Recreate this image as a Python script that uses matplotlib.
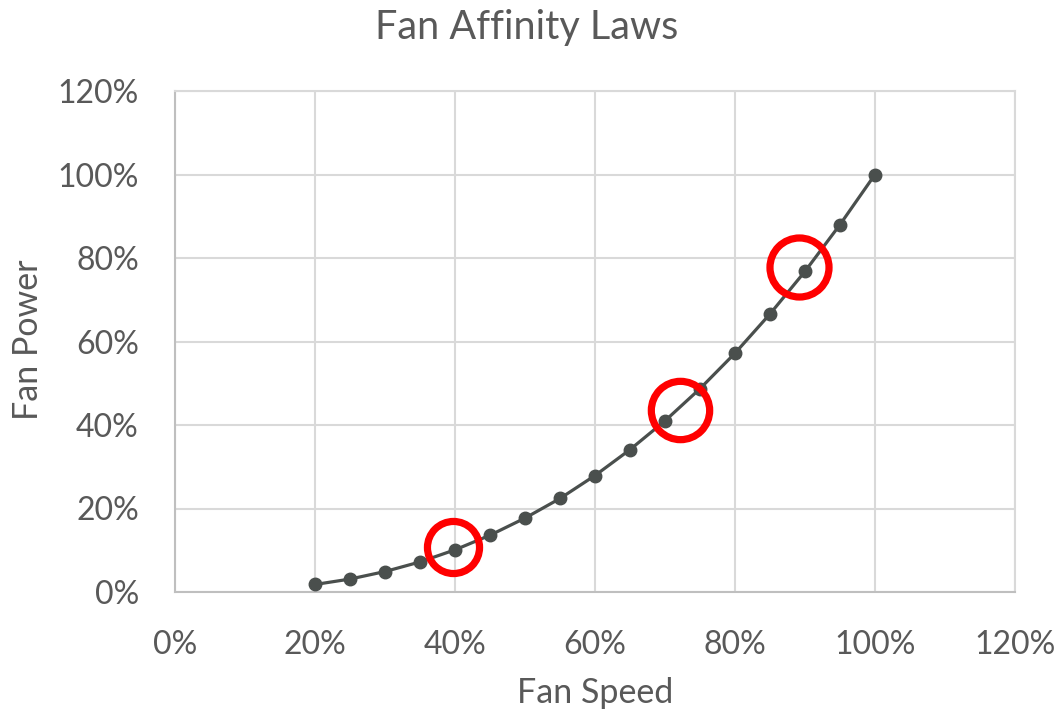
import matplotlib
matplotlib.use("Agg")
import matplotlib.pyplot as plt
from matplotlib.ticker import FixedLocator, FuncFormatter

# Fan speed (fraction of full speed) and resulting fan power (fraction of full power)
fan_speed = [0.20, 0.25, 0.30, 0.35, 0.40, 0.45, 0.50, 0.55, 0.60, 0.65,
             0.70, 0.75, 0.80, 0.85, 0.90, 0.95, 1.00]
fan_power = [0.018, 0.031, 0.049, 0.072, 0.101, 0.136, 0.177, 0.224, 0.279, 0.341,
             0.410, 0.487, 0.572, 0.666, 0.768, 0.880, 1.000]

# Highlight rings (speed, power, ring diameter in points)
ring_speed = [0.397, 0.721, 0.891]
ring_power = [0.108, 0.436, 0.778]
ring_size = [37.5, 42.0, 42.5]

ticks = [0.0, 0.2, 0.4, 0.6, 0.8, 1.0, 1.2]

text_color = "#595959"
grid_color = "#d9d9d9"
line_color = "#4a4f4d"
font = ["Lato", "DejaVu Sans"]

plt.rcParams["font.family"] = font

fig = plt.figure(figsize=(10.6, 7.14), dpi=100)
ax = fig.add_axes([175 / 1060, 1 - 592 / 714, 840 / 1060, 501 / 714])

ax.set_xlim(0, 1.2)
ax.set_ylim(0, 1.2)
ax.xaxis.set_major_locator(FixedLocator(ticks))
ax.yaxis.set_major_locator(FixedLocator(ticks))
pct = FuncFormatter(lambda v, _: f"{v * 100:.0f}%")
ax.xaxis.set_major_formatter(pct)
ax.yaxis.set_major_formatter(pct)

ax.grid(True, color=grid_color, linewidth=1.5, zorder=0)
for s in ax.spines.values():
    s.set_color(grid_color)
    s.set_linewidth(1.5)
ax.spines["left"].set_color("#bfbfbf")
ax.spines["bottom"].set_color("#bfbfbf")

ax.tick_params(axis="both", length=0, labelsize=23, labelcolor=text_color)
ax.tick_params(axis="x", pad=27)
ax.tick_params(axis="y", pad=26)

ax.plot(fan_speed, fan_power, color=line_color, linewidth=2.3,
        marker="o", markersize=9, markerfacecolor=line_color,
        markeredgecolor=line_color, zorder=3, clip_on=False)

for sx, sy, sz in zip(ring_speed, ring_power, ring_size):
    ax.plot([sx], [sy], marker="o", markersize=sz, markerfacecolor="none",
            markeredgecolor="#ff0000", markeredgewidth=5.2, zorder=4,
            linestyle="none", clip_on=False)

fig.text(527 / 1060, 1 - 27 / 714, "Fan Affinity Laws", ha="center", va="center",
         fontsize=28.5, color=text_color)
fig.text(595 / 1060, 1 - 693 / 714, "Fan Speed", ha="center", va="center",
         fontsize=24.5, color=text_color)
fig.text(28 / 1060, 1 - 340 / 714, "Fan Power", ha="center", va="center",
         fontsize=24.5, color=text_color, rotation=90)

fig.savefig("out.png", dpi=100, facecolor="white")
